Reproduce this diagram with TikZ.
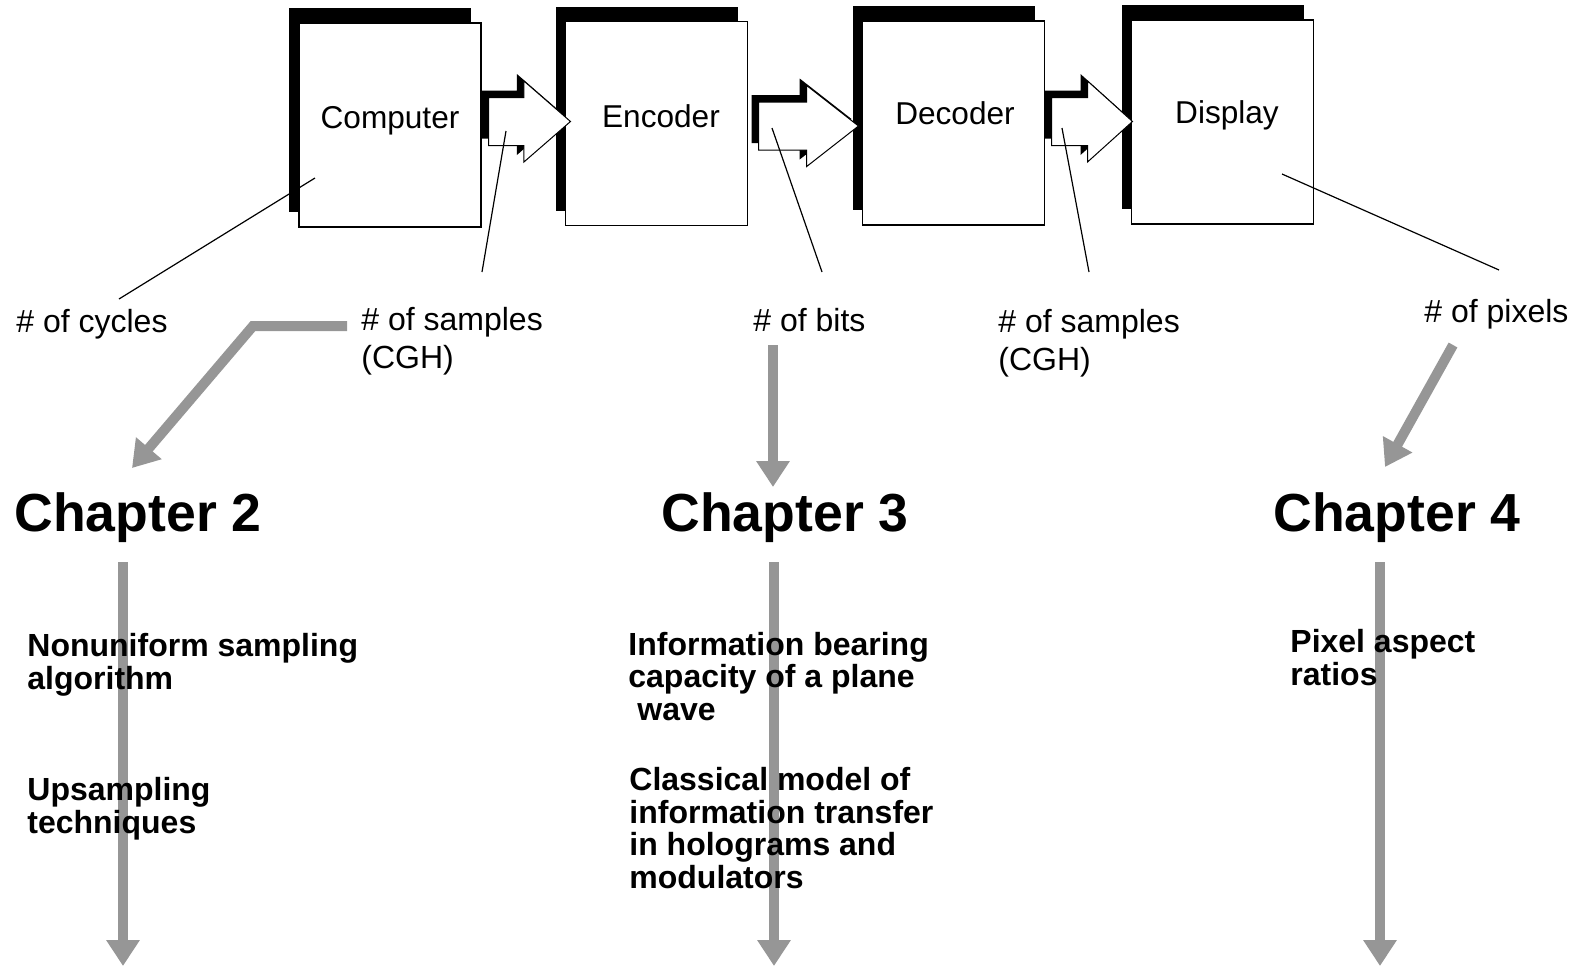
\documentclass[tikz,border=0pt]{standalone}
\usepackage{fontspec}
\setmainfont{Liberation Sans}
\usetikzlibrary{arrows.meta,shapes.arrows,shadows}

\definecolor{arrowgray}{RGB}{150,150,150}

\tikzset{
  stagebox/.style={draw, line width=0.6pt, fill=white, inner sep=0pt,
    minimum width=91pt, minimum height=102pt,
    general shadow={fill=black, shadow xshift=-5pt, shadow yshift=7.5pt}},
  stagelabel/.style={font=\fontsize{15.8}{19}\selectfont, inner sep=0pt, anchor=base},
  blockarrow/.style={shape=single arrow, draw, line width=0.5pt, fill=white,
    inner xsep=0pt, inner ysep=11.75pt, single arrow head extend=8.25pt,
    anchor=tail,
    general shadow={fill=black, shadow xshift=-3.5pt, shadow yshift=3.5pt}},
  leader/.style={line width=0.6pt},
  quantity/.style={font=\fontsize{16}{18.7}\selectfont, inner sep=0pt,
    anchor=base west, align=left},
  chaptitle/.style={font=\bfseries\fontsize{26.8}{30}\selectfont, inner sep=0pt,
    anchor=base west},
  topic/.style={font=\bfseries\fontsize{16}{16.2}\selectfont, inner sep=0pt,
    anchor=base west, align=left},
  grayarrow/.style={draw=arrowgray, line width=5pt, line join=miter,
    -{Triangle[width=16pt,length=13pt]}},
}

\begin{document}
\begin{tikzpicture}[x=0.5pt,y=-0.5pt]
\useasboundingbox (0,0) rectangle (1581,970);

% processing chain
\node[stagebox] (comp) at (390,125) {};
\node[stagebox] (enc)  at (656.5,123.5) {};
\node[stagebox] (dec)  at (953.5,123) {};
\node[stagebox] (disp) at (1222.5,122) {};

\node[stagelabel] (compl) at (390,128) {Computer};
\node[stagelabel] (encl)  at (661,127) {Encoder};
\node[stagelabel] (decl)  at (955,124) {Decoder};
\node[stagelabel] (displ) at (1227,123) {Display};

% block arrows between the stages (anchored at their tails)
\node[blockarrow, minimum height=41pt, single arrow tip angle=82] (a1) at (488,121.5) {};
\node[blockarrow, minimum height=50pt, single arrow tip angle=76] (a2) at (758,126) {};
\node[blockarrow, minimum height=40.5pt, single arrow tip angle=84] (a3) at (1051,121.5) {};

% quantities measured at each stage (base = last line)
\node[quantity] (cyc)   at (16,332)   {\# of cycles};
\node[quantity] (samp1) at (361,368)  {\# of samples\\(CGH)};
\node[quantity] (bits)  at (753,331)  {\# of bits};
\node[quantity] (samp2) at (998,370)  {\# of samples\\(CGH)};
\node[quantity] (pix)   at (1424,322) {\# of pixels};

% leader lines
\coordinate (p1) at (315,178);  \coordinate (q1) at (119,299);
\coordinate (p2) at (506,131);  \coordinate (q2) at (482,272);
\coordinate (p3) at (772,128);  \coordinate (q3) at (822,272);
\coordinate (p4) at (1062,128); \coordinate (q4) at (1089,272);
\coordinate (p5) at (1282,174); \coordinate (q5) at (1499,270);
\draw[leader] (p1) -- (q1);
\draw[leader] (p2) -- (q2);
\draw[leader] (p3) -- (q3);
\draw[leader] (p4) -- (q4);
\draw[leader] (p5) -- (q5);

% chapter headings
\node[chaptitle] (ch2) at (14,531)   {Chapter 2};
\node[chaptitle] (ch3) at (661,531)  {Chapter 3};
\node[chaptitle] (ch4) at (1273,531) {Chapter 4};

% gray arrows into and out of the chapters
\coordinate (g1s) at (347,326); \coordinate (g1b) at (253,326); \coordinate (g1e) at (132,468);
\coordinate (g2s) at (773,345); \coordinate (g2e) at (773,487);
\coordinate (g3s) at (1453,345); \coordinate (g3e) at (1385,467);
\draw[grayarrow] (g1s) -- (g1b) -- (g1e);
\draw[grayarrow] (g2s) -- (g2e);
\draw[grayarrow] (g3s) -- (g3e);

\coordinate (c2s) at (123,562);  \coordinate (c2e) at (123,966);
\coordinate (c3s) at (774,562);  \coordinate (c3e) at (774,966);
\coordinate (c4s) at (1380,562); \coordinate (c4e) at (1380,966);
\draw[grayarrow] (c2s) -- (c2e);
\draw[grayarrow] (c3s) -- (c3e);
\draw[grayarrow] (c4s) -- (c4e);

% chapter topics (base = last line)
\node[topic] (t21) at (27,689)   {Nonuniform sampling\\algorithm};
\node[topic] (t22) at (27,833)   {Upsampling\\techniques};
\node[topic] (t31) at (628,720)  {Information bearing\\capacity of a plane\\\hspace*{0.28em}wave};
\node[topic] (t32) at (629,888)  {Classical model of\\information transfer\\in holograms and\\modulators};
\node[topic] (t41) at (1290,685) {Pixel aspect\\ratios};
\end{tikzpicture}
\end{document}
